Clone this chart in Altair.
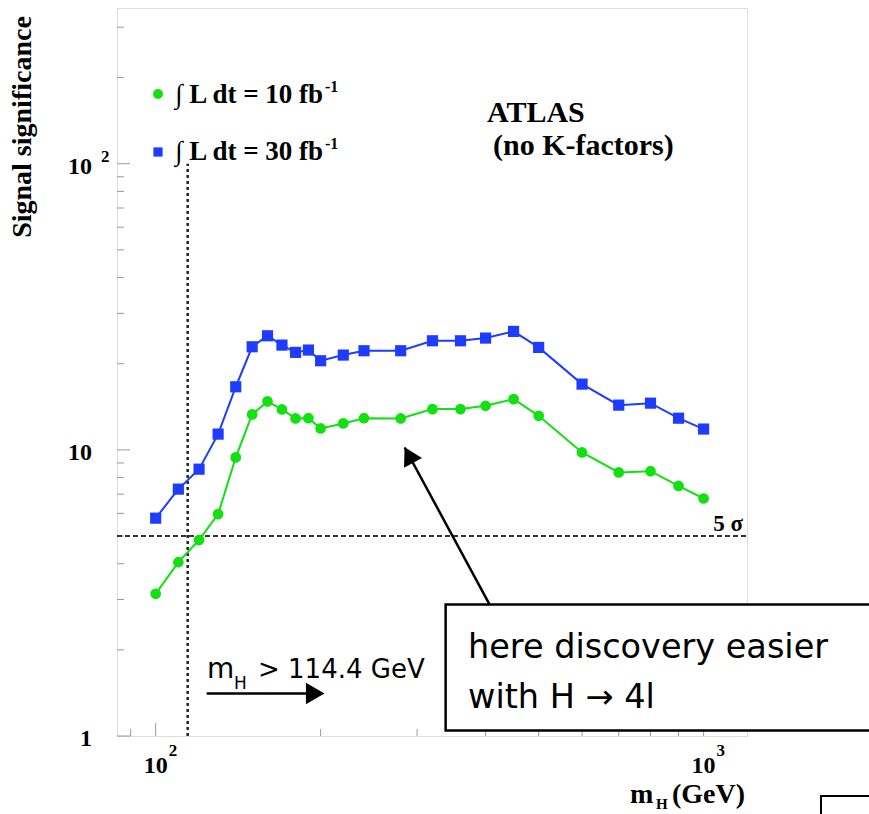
import altair as alt
import pandas as pd

# ---------------- data ----------------
mass = [100, 110, 120, 130, 140, 150, 160, 170, 180, 190, 200, 220, 240, 280,
        320, 360, 400, 450, 500, 600, 700, 800, 900, 1000]
sig_10fb = [3.14, 4.05, 4.84, 5.96, 9.41, 13.3, 14.77, 13.84, 12.87, 12.9, 11.88,
            12.37, 12.9, 12.87, 13.88, 13.88, 14.25, 15.04, 13.15, 9.79, 8.34,
            8.42, 7.48, 6.76]
sig_30fb = [5.77, 7.29, 8.56, 11.35, 16.61, 22.92, 25.04, 23.23, 21.91, 22.32,
            20.48, 21.44, 22.2, 22.2, 24.05, 24.05, 24.58, 25.94, 22.8, 16.97,
            14.33, 14.56, 12.9, 11.82]
lumi = ["10", "30"]

y_major = [1, 10, 100]
y_minor = [2, 3, 4, 5, 6, 7, 8, 9, 20, 30, 40, 50, 60, 70, 80, 90, 200, 300]
x_major = [100, 1000]
x_minor = [90, 200, 300, 400, 500, 600, 700, 800, 900]

m_lep_limit = 114.4      # GeV
five_sigma = 5

# annotation anchors (data coordinates: GeV, significance)
arrow_tail = (406.9, 2.88)
arrow_tip = (284.7, 10.19)
arrow_head = (289.7, 9.58)
box_x = (338.2, 3000)
box_y = (1.045, 2.88)
lim_arrow_x = (123.9, 192.0)
lim_arrow_head_x = 195.5
lim_arrow_y = 1.408

GREEN = "#12e012"
BLUE = "#1e3cff"
SERIF = "Liberation Serif"
HAND = "DejaVu Sans"

W, H = 630, 728
OX, OY = 117, 8  # plot origin in page pixels

xs = alt.Scale(type="log", domain=[85, 1200], nice=False)
ys = alt.Scale(type="log", domain=[1, 350], nice=False)


def X(f):
    return alt.X(f"{f}:Q", scale=xs, axis=None)


def Y(f):
    return alt.Y(f"{f}:Q", scale=ys, axis=None)


def page_text(text, x, y, size, font=SERIF, weight="bold", align="left",
              baseline="alphabetic", angle=None):
    kw = dict(font=font, fontSize=size, fontWeight=weight, align=align,
              baseline=baseline, color="black")
    if angle is not None:
        kw["angle"] = angle
    return alt.Chart(pd.DataFrame({"t": [text]})).mark_text(**kw).encode(
        text="t:N", x=alt.value(x - OX), y=alt.value(y - OY))


df = pd.DataFrame({
    "mass": mass * 2,
    "sig": sig_10fb + sig_30fb,
    "lumi": [lumi[0]] * len(mass) + [lumi[1]] * len(mass),
})

color = alt.Color("lumi:N", scale=alt.Scale(domain=lumi, range=[GREEN, BLUE]), legend=None)

# ---------------- ticks (inside, ROOT style) ----------------
ytick_major = alt.Chart(pd.DataFrame({"v": y_major})).mark_rule(color="#999", strokeWidth=1).encode(
    y=Y("v"), x=alt.value(0), x2=alt.value(13))
ytick_minor = alt.Chart(pd.DataFrame({"v": y_minor})).mark_rule(color="#999", strokeWidth=1).encode(
    y=Y("v"), x=alt.value(0), x2=alt.value(7))
xtick_major = alt.Chart(pd.DataFrame({"v": x_major})).mark_rule(color="#999", strokeWidth=1).encode(
    x=X("v"), y=alt.value(H), y2=alt.value(H - 13))
xtick_minor = alt.Chart(pd.DataFrame({"v": x_minor})).mark_rule(color="#999", strokeWidth=1).encode(
    x=X("v"), y=alt.value(H), y2=alt.value(H - 7))

# tick labels
ylab_df = pd.DataFrame({"v": y_major, "t": ["1" if v == 1 else "10" for v in y_major]})
ylab = alt.Chart(ylab_df).mark_text(font=SERIF, fontWeight="bold", fontSize=24, align="right",
                                    baseline="middle", dy=3).encode(
    y=Y("v"), x=alt.value(92 - OX), text="t:N")
yexp_df = pd.DataFrame({"v": [v for v in y_major if v > 10],
                        "t": [str(len(str(v)) - 1) for v in y_major if v > 10]})
yexp = alt.Chart(yexp_df).mark_text(font=SERIF, fontWeight="bold", fontSize=17, align="left",
                                    baseline="middle", dy=-7).encode(
    y=Y("v"), x=alt.value(101 - OX), text="t:N")
xlab_df = pd.DataFrame({"v": x_major, "t": ["10"] * len(x_major),
                        "e": [str(len(str(v)) - 1) for v in x_major]})
xlab = alt.Chart(xlab_df).mark_text(font=SERIF, fontWeight="bold", fontSize=24, align="center",
                                    baseline="alphabetic").encode(
    x=X("v"), y=alt.value(773 - OY), text="t:N")
xexp = alt.Chart(xlab_df).mark_text(font=SERIF, fontWeight="bold", fontSize=17, align="left",
                                    baseline="alphabetic", dx=13).encode(
    x=X("v"), y=alt.value(756 - OY), text="e:N")

# ---------------- reference lines ----------------
vline = alt.Chart(pd.DataFrame({"m": [m_lep_limit], "y1": [1], "y2": [100]})).mark_rule(
    color="#222", strokeWidth=2.5, strokeDash=[3, 3]).encode(x=X("m"), y=Y("y1"), y2="y2:Q")
hline = alt.Chart(pd.DataFrame({"s": [five_sigma]})).mark_rule(
    color="#333", strokeWidth=2, strokeDash=[5, 3]).encode(y=Y("s"), x=alt.value(0), x2=alt.value(W))
sigma_lab = alt.Chart(pd.DataFrame({"s": [five_sigma], "t": [f"{five_sigma} σ"]})).mark_text(
    font=SERIF, fontWeight="bold", fontSize=23, align="right", baseline="alphabetic", dy=-5).encode(
    y=Y("s"), x=alt.value(743 - OX), text="t:N")

# ---------------- series ----------------
lines = alt.Chart(df).mark_line(strokeWidth=2).encode(
    x=X("mass"), y=Y("sig"), color=color, detail="lumi:N")
pts10 = alt.Chart(df).transform_filter(alt.datum.lumi == lumi[0]).mark_point(
    shape="circle", filled=True, opacity=1, size=115).encode(x=X("mass"), y=Y("sig"), color=color)
pts30 = alt.Chart(df).transform_filter(alt.datum.lumi == lumi[1]).mark_point(
    shape="square", filled=True, opacity=1, size=125).encode(x=X("mass"), y=Y("sig"), color=color)

# ---------------- legend ----------------
leg_sym10 = alt.Chart(pd.DataFrame({"lumi": [lumi[0]]})).mark_point(
    shape="circle", filled=True, opacity=1, size=100).encode(
    x=alt.value(158 - OX), y=alt.value(94 - OY), color=color)
leg_sym30 = alt.Chart(pd.DataFrame({"lumi": [lumi[1]]})).mark_point(
    shape="square", filled=True, opacity=1, size=85).encode(
    x=alt.value(158 - OX), y=alt.value(152 - OY), color=color)
leg_txt10 = page_text(f"∫ L dt = {lumi[0]} fb", 175, 103, 27)
leg_txt30 = page_text(f"∫ L dt = {lumi[1]} fb", 175, 160, 27)
leg_exp10 = page_text("-1", 325, 92, 16)
leg_exp30 = page_text("-1", 325, 149, 16)

atlas = page_text("ATLAS", 487, 122, 30)
nokf = page_text("(no K-factors)", 493, 155, 30)

ytitle = page_text("Signal significance", 23, 127, 28, align="center", baseline="middle", angle=270)
xt_m = page_text("m", 630, 803, 28)
xt_H = page_text("H", 656, 809, 15)
xt_gev = page_text("(GeV)", 672, 803, 28)

# ---------------- annotations ----------------
arrow_line = alt.Chart(pd.DataFrame({"x1": [arrow_tail[0]], "y1": [arrow_tail[1]],
                                     "x2": [arrow_tip[0]], "y2": [arrow_tip[1]]})).mark_rule(
    color="black", strokeWidth=2.5).encode(x=X("x1"), y=Y("y1"), x2="x2:Q", y2="y2:Q")
arrow_tri = alt.Chart(pd.DataFrame({"x": [arrow_head[0]], "y": [arrow_head[1]]})).mark_point(
    shape="triangle-up", filled=True, opacity=1, color="black", size=420, angle=331.6).encode(
    x=X("x"), y=Y("y"))

box = alt.Chart(pd.DataFrame({"x1": [box_x[0]], "x2": [box_x[1]], "y1": [box_y[0]], "y2": [box_y[1]]})).mark_rect(
    fill="white", stroke="black", strokeWidth=2.5).encode(x=X("x1"), x2="x2:Q", y=Y("y1"), y2="y2:Q")
box_t1 = page_text("here discovery easier", 468, 658, 33.5, font=HAND, weight="normal")
box_t2 = page_text("with H → 4l", 468, 708, 33.5, font=HAND, weight="normal")

lim_line = alt.Chart(pd.DataFrame({"x1": [lim_arrow_x[0]], "x2": [lim_arrow_x[1]], "y": [lim_arrow_y]})).mark_rule(
    color="black", strokeWidth=2.5).encode(x=X("x1"), x2="x2:Q", y=Y("y"))
lim_tri = alt.Chart(pd.DataFrame({"x": [lim_arrow_head_x], "y": [lim_arrow_y]})).mark_point(
    shape="triangle-right", filled=True, opacity=1, color="black", size=460).encode(x=X("x"), y=Y("y"))
lim_m = page_text("m", 207, 678, 28, font=HAND, weight="normal")
lim_H = page_text("H", 234, 689, 17, font=HAND, weight="normal")
lim_rest = page_text(f"> {m_lep_limit} GeV", 258, 678, 26, font=HAND, weight="normal")

corner_box = alt.Chart(pd.DataFrame({"a": [0]})).mark_rect(
    fill="white", stroke="black", strokeWidth=2).encode(
    x=alt.value(821 - OX), x2=alt.value(900 - OX), y=alt.value(796 - OY), y2=alt.value(860 - OY))

chart = alt.layer(
    ytick_minor, ytick_major, xtick_minor, xtick_major,
    vline, hline, sigma_lab,
    lines, pts10, pts30,
    arrow_line, arrow_tri,
    box, box_t1, box_t2,
    lim_line, lim_tri, lim_m, lim_H, lim_rest,
    leg_sym10, leg_sym30, leg_txt10, leg_txt30, leg_exp10, leg_exp30,
    atlas, nokf,
    ylab, yexp, xlab, xexp, ytitle, xt_m, xt_H, xt_gev,
    corner_box,
).properties(
    width=W, height=H,
    autosize=alt.AutoSizeParams(type="none"),
    padding={"left": OX, "top": OY, "right": 869 - OX - W, "bottom": 814 - OY - H},
).configure_view(stroke="#555", strokeWidth=2).configure(background="white")

chart.save("out.html", embed_options={"renderer": "svg", "actions": False})
